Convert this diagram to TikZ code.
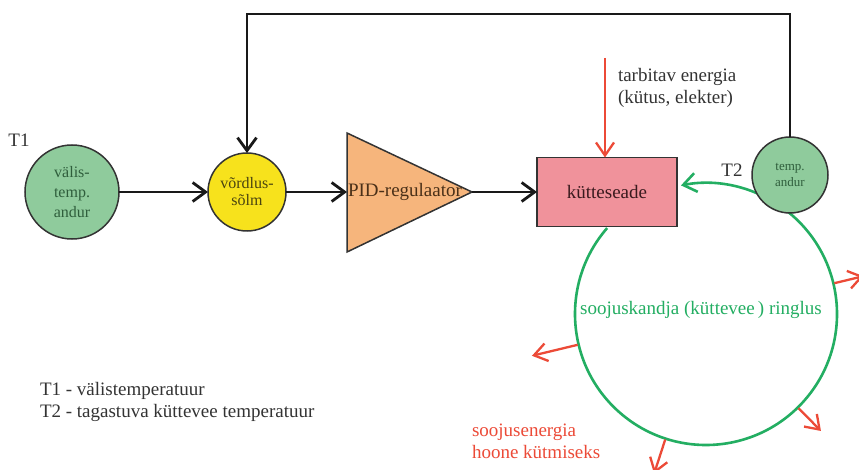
\documentclass[tikz,border=0pt]{standalone}
\usepackage{fontspec}
\setmainfont{Liberation Serif}
\usetikzlibrary{arrows.meta,calc}

\definecolor{sensorfill}{HTML}{8FCB9C}
\definecolor{sensortext}{HTML}{2F5E3C}
\definecolor{nodeedge}{HTML}{333333}
\definecolor{cmpfill}{HTML}{F7E21C}
\definecolor{cmptext}{HTML}{4A4410}
\definecolor{pidfill}{HTML}{F6B57C}
\definecolor{pidtext}{HTML}{4A3018}
\definecolor{heaterfill}{HTML}{F0929B}
\definecolor{heatertext}{HTML}{3A1A1E}
\definecolor{loopgreen}{HTML}{23AE62}
\definecolor{heatred}{HTML}{EC4A37}
\definecolor{labelgray}{HTML}{333333}

\begin{document}
\begin{tikzpicture}[x=1pt,y=1pt,
  every node/.style={font=\fontsize{19}{22}\selectfont, inner sep=0pt, outer sep=0pt},
  tip/.style={-{Straight Barb[length=13pt,width=19pt]}},
  signal/.style={tip, line width=2.8pt, draw=black!90},
  sensor/.style={circle, draw=nodeedge, line width=1.5pt, fill=sensorfill,
    text=sensortext, align=center},
  comparator/.style={circle, draw=nodeedge, line width=1.5pt, fill=cmpfill,
    text=cmptext, align=center, minimum size=78pt,
    font=\fontsize{16}{17}\selectfont},
  heater/.style={rectangle, draw=nodeedge, line width=1.5pt, fill=heaterfill,
    text=heatertext, minimum width=140pt, minimum height=69pt},
  loopline/.style={line width=2.6pt, draw=loopgreen,
    -{Straight Barb[length=13pt,width=19pt]}},
  heatflow/.style={line width=2.3pt, draw=heatred,
    -{Straight Barb[length=13pt,width=18pt]}}
]
\useasboundingbox (0,0) rectangle (859,-470);
\fill[white] (0,0) rectangle (859,-470);

% outdoor temperature sensor and comparison point
\node[sensor, minimum size=94pt, font=\fontsize{16}{20}\selectfont]
  (outdoor) at (72,-192) {välis-\\temp.\\andur};
\node[labelgray, anchor=center] (t1) at (19,-140) {T1};
\node[comparator] (cmp) at (247,-192) {võrdlus-\\sõlm};

% PID controller (triangle)
\coordinate (pidin)  at (347,-192);
\coordinate (pidout) at (472,-192);
\fill[pidfill, draw=nodeedge, line width=1.5pt]
  (347,-133) -- (pidout) -- (347,-252) -- cycle;
\node[pidtext, anchor=west] (pid) at (348,-192) {PID-regulaator};

% heater
\node[heater] (heater) at (607,-192) {kütteseade};

% circulation loop
\coordinate (gc) at (706,-314);
\coordinate (loopstart) at ($(gc)+(139:131)$);
\draw[loopline] (loopstart) arc[start angle=139, end angle=461, radius=131];
\node[loopgreen] (looplabel) at (701,-310) {soojuskandja (küttevee\,) ringlus};

% return temperature sensor
\node[sensor, minimum size=76pt, font=\fontsize{13}{16}\selectfont]
  (ret) at (790,-175) {temp.\\andur};
\node[labelgray] (t2) at (732,-170) {T2};

% signal path
\draw[signal] (outdoor.east) -- (cmp.west);
\draw[signal] (cmp.east) -- (pidin);
\draw[signal] (pidout) -- (heater.west);
\coordinate (fbtop) at (790,-14);
\draw[signal] (ret.north) -- (fbtop) -- (fbtop -| cmp.north) -- (cmp.north);

% energy supplied to the heater
\coordinate (fuel) at (605,-58);
\draw[heatflow] (fuel) -- (fuel |- heater.north);
\node[labelgray, anchor=west, align=left] (fuellabel) at (618,-88)
  {tarbitav energia\\(kütus, elekter)};

% heat given off to the building
\coordinate (h1a) at ($(gc)+(13.5:132)$);
\coordinate (h1b) at ($(gc)+(13.5:162)$);
\coordinate (h2a) at ($(gc)+(193.5:132)$);
\coordinate (h2b) at ($(gc)+(193.5:179)$);
\coordinate (h3a) at ($(gc)+(-45.5:132)$);
\coordinate (h3b) at ($(gc)+(-45.5:164)$);
\coordinate (h4a) at ($(gc)+(-108:132)$);
\coordinate (h4b) at ($(gc)+(-108:168)$);
\draw[heatflow] (h1a) -- (h1b);
\draw[heatflow] (h2a) -- (h2b);
\draw[heatflow] (h3a) -- (h3b);
\draw[heatflow] (h4a) -- (h4b);
\node[heatred, anchor=west, align=left] (heatlabel) at (472,-441)
  {soojusenergia\\hoone kütmiseks};

% legend
\node[labelgray, anchor=west, align=left] (legend) at (40,-402)
  {T1 - välistemperatuur\\T2 - tagastuva\ küttevee temperatuur};
\end{tikzpicture}
\end{document}
